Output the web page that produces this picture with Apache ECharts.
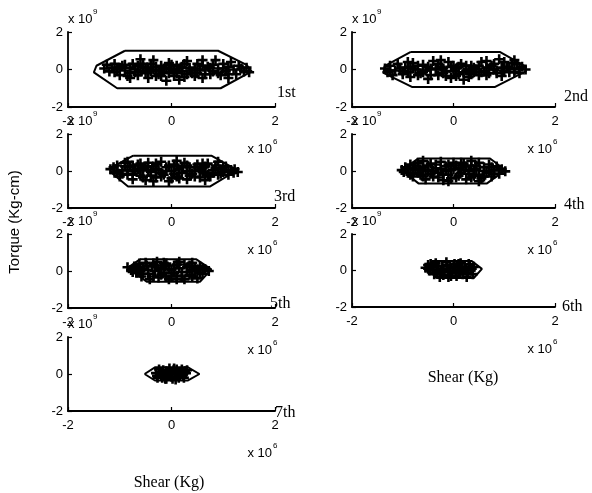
<!DOCTYPE html>
<html>
<head>
<meta charset="utf-8">
<script src="https://cdn.jsdelivr.net/npm/echarts@6/dist/echarts.min.js"></script>
<style>
  html, body { margin: 0; padding: 0; background: #fff; }
  #chart { width: 592px; height: 493px; }
</style>
</head>
<body>
<div id="chart"></div>
<script>
// shear in x 10^6 Kg, torque in x 10^9 Kg-cm
const runLabels = ['1st', '2nd', '3rd', '4th', '5th', '6th', '7th'];
const axisTicks = [-2, 0, 2];

const run1 = [[-1.3,0.05],[-1.25,0.25],[-1.2,-0.1],[-1.1,0.3],[-1.05,0.0],[-1.0,-0.3],[-0.95,0.2],[-0.9,-0.05],[-0.85,-0.35],[-0.75,0.3],[-0.7,0.0],[-0.65,-0.3],[-0.6,0.55],[-0.55,0.15],[-0.5,-0.2],[-0.45,-0.45],[-0.4,0.3],[-0.35,0.0],[-0.3,-0.35],[-0.2,0.2],[-0.15,-0.15],[-0.1,-0.6],[-0.05,0.35],[0.0,0.0],[0.05,-0.35],[0.1,0.2],[0.2,-0.1],[0.25,-0.4],[0.3,0.45],[0.35,0.1],[0.4,-0.2],[0.5,0.3],[0.55,-0.05],[0.6,-0.45],[0.7,0.15],[0.75,-0.25],[0.85,0.5],[0.9,0.05],[0.95,-0.3],[1.0,0.3],[1.05,-0.1],[1.15,0.4],[1.2,0.0],[1.25,-0.25],[1.3,0.2],[1.4,-0.1],[1.45,0.1],[1.5,-0.15],[-0.8,0.1],[0.15,0.05],[0.65,0.0],[-0.25,-0.05],
  [-1.15,0.1],[-1.0,0.1],[-0.9,0.25],[-0.8,-0.2],[-0.7,-0.15],[-0.6,-0.1],[-0.55,0.3],[-0.45,0.1],[-0.4,-0.1],[-0.3,0.15],[-0.25,-0.25],[-0.15,0.05],[-0.1,0.1],[-0.05,-0.2],[0.0,0.25],[0.05,-0.1],[0.1,-0.2],[0.2,0.15],[0.3,-0.25],[0.35,-0.05],[0.45,0.05],[0.5,-0.2],[0.6,0.2],[0.65,-0.25],[0.75,0.1],[0.8,-0.1],[0.9,-0.2],[1.0,0.05],[1.1,0.15],[1.1,-0.25],[-0.5,0.05],[-0.2,-0.35],[0.25,0.3],[0.45,-0.35],[0.8,0.25],[-0.65,0.2],[1.35,0.05],[-1.1,-0.15],
  [-0.35,0.5],[0.15,-0.55],[0.6,0.5],[-0.8,-0.45],[1.1,-0.45]];
const run2 = [[-1.35,0.05],[-1.3,-0.15],[-1.25,0.2],[-1.15,-0.05],[-1.1,0.3],[-1.0,-0.25],[-0.95,0.1],[-0.85,-0.4],[-0.8,0.35],[-0.75,0.0],[-0.65,-0.2],[-0.6,0.25],[-0.5,-0.5],[-0.45,0.05],[-0.4,0.45],[-0.3,-0.3],[-0.25,0.15],[-0.15,-0.1],[-0.1,0.4],[-0.05,-0.45],[0.05,0.05],[0.1,-0.25],[0.15,0.3],[0.25,-0.05],[0.3,-0.4],[0.35,0.2],[0.45,0.0],[0.5,-0.3],[0.55,0.4],[0.65,0.1],[0.7,-0.2],[0.8,0.3],[0.85,-0.05],[0.9,0.55],[0.95,-0.35],[1.05,0.15],[1.1,-0.15],[1.15,0.35],[1.2,0.0],[1.3,-0.2],[1.35,0.15],[1.42,0.0],[-0.55,-0.05],[0.0,0.2],[0.6,-0.1],[-1.2,-0.3],[0.4,-0.15],[-0.2,-0.2],[1.0,0.4],[1.25,0.3],
  [-1.25,-0.05],[-1.05,0.05],[-0.9,-0.15],[-0.85,0.15],[-0.7,0.2],[-0.7,-0.3],[-0.6,-0.15],[-0.5,0.15],[-0.45,-0.3],[-0.35,0.0],[-0.3,0.3],[-0.2,0.05],[-0.15,-0.35],[-0.05,0.15],[0.0,-0.1],[0.05,-0.35],[0.1,0.15],[0.2,-0.15],[0.25,0.2],[0.35,-0.25],[0.4,0.1],[0.5,0.2],[0.55,-0.15],[0.65,-0.3],[0.7,0.05],[0.75,0.2],[0.85,-0.2],[0.95,0.1],[1.0,-0.1],[1.1,0.05],[1.2,-0.15],[1.3,0.05],[-1.0,-0.1],[-0.8,0.05],[0.3,0.0],[0.8,0.0],
  [-0.25,0.5],[0.2,-0.55],[0.65,0.45],[-0.9,0.4],[1.2,0.5]];
const run3 = [[-1.18,0.1],[-1.1,-0.1],[-1.05,0.3],[-1.0,-0.3],[-0.95,0.05],[-0.9,0.45],[-0.85,-0.2],[-0.8,0.2],[-0.75,-0.45],[-0.7,0.0],[-0.65,0.35],[-0.6,-0.25],[-0.55,0.15],[-0.5,-0.5],[-0.45,0.45],[-0.4,-0.05],[-0.35,0.25],[-0.3,-0.35],[-0.25,0.05],[-0.2,0.5],[-0.15,-0.2],[-0.1,0.2],[-0.05,-0.55],[0.0,0.0],[0.05,0.35],[0.1,-0.3],[0.15,0.1],[0.2,-0.1],[0.25,0.45],[0.3,-0.45],[0.35,0.2],[0.4,-0.15],[0.45,0.0],[0.5,0.35],[0.55,-0.35],[0.6,0.15],[0.65,-0.1],[0.7,0.4],[0.75,-0.3],[0.8,0.05],[0.85,0.3],[0.9,-0.2],[0.95,0.1],[1.0,-0.05],[1.05,0.25],[1.1,-0.2],[1.15,0.05],[1.22,0.1],[1.28,-0.05],[-0.6,0.05],[0.3,0.0],[-0.2,-0.1],[0.6,-0.05],
  [-1.12,0.2],[-1.05,0.0],[-0.95,-0.15],[-0.9,0.25],[-0.85,0.05],[-0.75,0.3],[-0.75,-0.15],[-0.65,0.1],[-0.55,-0.35],[-0.5,0.25],[-0.45,0.05],[-0.4,-0.25],[-0.3,0.4],[-0.3,0.1],[-0.2,-0.3],[-0.1,0.0],[-0.05,0.3],[0.05,-0.15],[0.1,0.25],[0.15,-0.4],[0.2,0.2],[0.3,0.3],[0.35,-0.25],[0.45,0.2],[0.45,-0.3],[0.55,0.05],[0.65,0.25],[0.7,-0.2],[0.8,-0.1],[0.85,0.15],[0.95,-0.15],[1.0,0.2],[1.1,0.0],[1.2,-0.1],[-0.6,0.4],[0.0,-0.4],[0.6,0.4],
  [-0.85,0.5],[0.1,0.55],[0.9,0.5],[-0.35,-0.55],[0.65,-0.5]];
const run4 = [[-1.02,0.05],[-0.95,0.2],[-0.9,-0.1],[-0.85,0.35],[-0.8,-0.3],[-0.75,0.05],[-0.7,0.45],[-0.65,-0.2],[-0.6,0.2],[-0.55,-0.45],[-0.5,0.0],[-0.45,0.4],[-0.4,-0.3],[-0.35,0.15],[-0.3,-0.1],[-0.25,0.5],[-0.2,-0.5],[-0.15,0.25],[-0.1,-0.2],[-0.05,0.05],[0.0,0.45],[0.05,-0.35],[0.1,0.15],[0.15,-0.1],[0.2,0.4],[0.25,-0.45],[0.3,0.0],[0.35,0.3],[0.4,-0.25],[0.45,0.1],[0.5,0.45],[0.55,-0.4],[0.6,0.2],[0.65,-0.1],[0.7,0.35],[0.75,-0.3],[0.8,0.05],[0.85,0.25],[0.9,-0.15],[0.95,0.1],[1.02,-0.02],[-0.4,0.0],[0.3,-0.15],[-0.8,0.15],[0.7,0.0],
  [-0.98,-0.05],[-0.9,0.1],[-0.85,-0.2],[-0.75,0.3],[-0.7,-0.1],[-0.65,0.1],[-0.6,-0.3],[-0.5,0.3],[-0.45,-0.15],[-0.35,0.35],[-0.3,-0.35],[-0.25,0.1],[-0.2,-0.2],[-0.1,0.35],[-0.05,-0.4],[0.0,0.1],[0.05,0.3],[0.1,-0.25],[0.2,0.05],[0.25,0.25],[0.35,-0.35],[0.4,0.05],[0.45,0.3],[0.5,-0.2],[0.6,-0.3],[0.6,0.0],[0.75,0.2],[0.8,-0.15],[0.9,0.05],[-0.55,0.05],[0.15,0.45],[-0.15,0.0],
  [-0.6,0.55],[0.35,0.55],[-0.1,-0.55],[0.5,-0.55]];
const run5 = [[-0.85,0.2],[-0.78,0.05],[-0.72,0.25],[-0.68,-0.1],[-0.62,0.4],[-0.58,-0.3],[-0.55,0.1],[-0.5,0.45],[-0.45,-0.15],[-0.42,-0.45],[-0.38,0.25],[-0.32,0.0],[-0.28,0.5],[-0.25,-0.35],[-0.2,0.15],[-0.15,-0.1],[-0.1,0.4],[-0.05,-0.45],[0.0,0.05],[0.05,0.3],[0.1,-0.25],[0.15,0.5],[0.2,-0.05],[0.25,-0.45],[0.3,0.2],[0.35,-0.2],[0.4,0.45],[0.45,0.0],[0.5,-0.4],[0.55,0.25],[0.6,-0.15],[0.65,0.1],[0.72,0.0],[-0.3,0.3],[0.25,0.35],[0.0,-0.3],[-0.6,0.0],[0.5,0.1],
  [-0.75,-0.05],[-0.7,0.1],[-0.6,0.2],[-0.55,-0.15],[-0.48,0.3],[-0.45,0.05],[-0.35,-0.3],[-0.35,0.4],[-0.25,0.1],[-0.2,-0.2],[-0.12,0.25],[-0.1,-0.3],[-0.05,0.1],[0.05,-0.1],[0.1,0.35],[0.15,0.15],[0.2,-0.3],[0.3,-0.05],[0.35,0.3],[0.4,-0.3],[0.45,0.2],[0.55,-0.1],[0.6,0.15],[0.4,0.05],[-0.15,0.45],[0.1,-0.45]];
const run6 = [[-0.55,0.15],[-0.5,0.3],[-0.48,0.0],[-0.42,0.2],[-0.38,-0.2],[-0.35,0.4],[-0.3,0.05],[-0.27,-0.35],[-0.22,0.25],[-0.18,-0.1],[-0.14,0.45],[-0.1,-0.35],[-0.06,0.15],[-0.02,-0.15],[0.02,0.35],[0.06,-0.3],[0.1,0.05],[0.14,0.4],[0.18,-0.2],[0.22,0.2],[0.26,-0.35],[0.3,0.35],[0.34,0.0],[0.38,-0.2],[0.4,0.2],[-0.25,0.0],[0.2,0.0],[-0.45,0.35],
  [-0.5,0.1],[-0.4,0.05],[-0.4,0.3],[-0.33,-0.1],[-0.3,0.25],[-0.2,0.1],[-0.2,-0.25],[-0.12,0.3],[-0.08,0.0],[0.0,0.2],[0.04,-0.1],[0.08,0.25],[0.12,-0.15],[0.16,0.15],[0.24,0.05],[0.28,-0.15],[0.32,0.2],[0.36,0.1],[-0.05,-0.3],[0.1,0.35]];
const run7 = [[-0.3,0.05],[-0.27,-0.2],[-0.24,0.25],[-0.2,-0.05],[-0.16,0.2],[-0.12,-0.25],[-0.08,0.05],[-0.04,0.3],[0.0,-0.15],[0.04,0.2],[0.08,-0.3],[0.12,0.1],[0.16,-0.1],[0.2,0.25],[0.24,-0.2],[0.28,0.05],[0.3,0.2],[0.0,0.0],[-0.15,-0.1],[0.15,0.0],
  [-0.28,-0.1],[-0.22,0.1],[-0.18,-0.2],[-0.1,0.15],[-0.06,-0.1],[-0.02,0.1],[0.02,-0.25],[0.06,0.05],[0.1,0.25],[0.14,-0.2],[0.18,0.1],[0.22,-0.05],[0.26,0.15],[-0.1,-0.25],[0.05,0.3]];

// boundary polygons (closed)
const hull1 = [[-0.9,1.0],[0.9,1.0],[1.45,0.25],[1.55,-0.1],[0.95,-1.0],[-1.05,-1.0],[-1.5,-0.15],[-1.45,0.2],[-0.9,1.0]];
const hull2 = [[-0.85,0.93],[0.92,0.93],[1.41,0.18],[1.43,-0.09],[0.82,-0.93],[-0.82,-0.93],[-1.38,-0.18],[-1.36,0.18],[-0.85,0.93]];
const hull3 = [[-0.74,0.83],[0.77,0.83],[1.27,0.05],[0.74,-0.84],[-0.84,-0.84],[-1.16,-0.1],[-1.19,0.14],[-0.74,0.83]];
const hull4 = [[-0.69,0.68],[0.72,0.68],[1.02,0.05],[0.66,-0.67],[-0.69,-0.67],[-1.02,0.05],[-0.69,0.68]];
const hull5 = [[-0.61,0.63],[0.48,0.63],[0.77,0.09],[0.55,-0.58],[-0.48,-0.58],[-0.84,0.18],[-0.61,0.63]];
const hull6 = [[-0.4,0.52],[0.36,0.52],[0.56,0.09],[0.4,-0.41],[-0.33,-0.41],[-0.56,0.2],[-0.4,0.52]];
const hull7 = [[-0.52,0.0],[-0.32,0.36],[0.32,0.36],[0.54,0.0],[0.32,-0.35],[-0.32,-0.35],[-0.52,0.0]];

const runs = [run1, run2, run3, run4, run5, run6, run7];
const hulls = [hull1, hull2, hull3, hull4, hull5, hull6, hull7];

// panel placement: grid box + where the run label sits
const panels = [
  { left: 68,  top: 32,  width: 207, height: 75, lx: 277, ly: 93 },
  { left: 352, top: 32,  width: 203, height: 75, lx: 564, ly: 97 },
  { left: 68,  top: 134, width: 207, height: 74, lx: 274, ly: 197 },
  { left: 352, top: 134, width: 203, height: 74, lx: 564, ly: 205 },
  { left: 68,  top: 234, width: 207, height: 74, lx: 270, ly: 304 },
  { left: 352, top: 234, width: 203, height: 73, lx: 562, ly: 307 },
  { left: 68,  top: 337, width: 207, height: 74, lx: 275, ly: 413 }
];

const sansFont = 'Liberation Sans, Arial, sans-serif';
const serifFont = 'Liberation Serif, Times New Roman, serif';
const plusMark = 'path://M3.7,0H6.3V3.7H10V6.3H6.3V10H3.7V6.3H0V3.7H3.7Z';

function axisCommon(margin) {
  return {
    type: 'value', min: -2, max: 2, interval: 2,
    axisLine: { show: true, onZero: false, lineStyle: { color: '#000', width: 1.8 } },
    axisTick: { show: true, inside: true, length: 4, lineStyle: { color: '#000', width: 1.2 } },
    axisLabel: { color: '#000', fontSize: 13, fontFamily: sansFont, margin: margin,
      formatter: v => axisTicks.indexOf(v) >= 0 ? String(v) : '' },
    splitLine: { show: false }
  };
}

const grid = [], xAxis = [], yAxis = [], series = [], graphic = [];

function expLabel(x, y, power, align) {
  // "x 10" with a raised exponent
  graphic.push({ type: 'text', silent: true,
    style: { text: 'x 10', x: x, y: y, fill: '#000', fontSize: 13, fontFamily: sansFont,
      align: align, verticalAlign: 'middle' } });
  graphic.push({ type: 'text', silent: true,
    style: { text: power, x: align === 'right' ? x + 1 : x + 25, y: y - 7, fill: '#000', fontSize: 8,
      fontFamily: sansFont, align: 'left', verticalAlign: 'middle' } });
}

panels.forEach((p, i) => {
  grid.push({ left: p.left, top: p.top, width: p.width, height: p.height, containLabel: false });
  xAxis.push(Object.assign(axisCommon(8), { gridIndex: i }));
  yAxis.push(Object.assign(axisCommon(5), { gridIndex: i }));
  series.push({
    type: 'scatter', xAxisIndex: i, yAxisIndex: i, data: runs[i],
    symbol: plusMark, symbolSize: 10, itemStyle: { color: '#000', opacity: 1 }, silent: true
  });
  series.push({
    type: 'line', xAxisIndex: i, yAxisIndex: i, data: hulls[i],
    showSymbol: false, symbol: 'none', lineStyle: { color: '#000', width: 2 }, silent: true
  });
  // y exponent above the axis top, x exponent under the right end
  expLabel(p.left, p.top - 13, '9', 'left');
  expLabel(p.left + p.width - 3, p.top + p.height + 42, '6', 'right');
  graphic.push({ type: 'text', silent: true,
    style: { text: runLabels[i], x: p.lx, y: p.ly, fill: '#000', fontSize: 16, fontFamily: serifFont,
      align: 'left', verticalAlign: 'middle' } });
});

graphic.push({ type: 'text', silent: true, rotation: Math.PI / 2, x: 15, y: 222,
  style: { text: 'Torque (Kg-cm)', x: 0, y: 0, fill: '#000', fontSize: 15, fontFamily: sansFont,
    align: 'center', verticalAlign: 'middle' } });
graphic.push({ type: 'text', silent: true,
  style: { text: 'Shear (Kg)', x: 169, y: 483, fill: '#000', fontSize: 16, fontFamily: serifFont,
    align: 'center', verticalAlign: 'middle' } });
graphic.push({ type: 'text', silent: true,
  style: { text: 'Shear (Kg)', x: 463, y: 378, fill: '#000', fontSize: 16, fontFamily: serifFont,
    align: 'center', verticalAlign: 'middle' } });

const chart = echarts.init(document.getElementById('chart'));
chart.setOption({
  animation: false,
  backgroundColor: '#fff',
  grid: grid, xAxis: xAxis, yAxis: yAxis, series: series, graphic: graphic
});
</script>
</body>
</html>
